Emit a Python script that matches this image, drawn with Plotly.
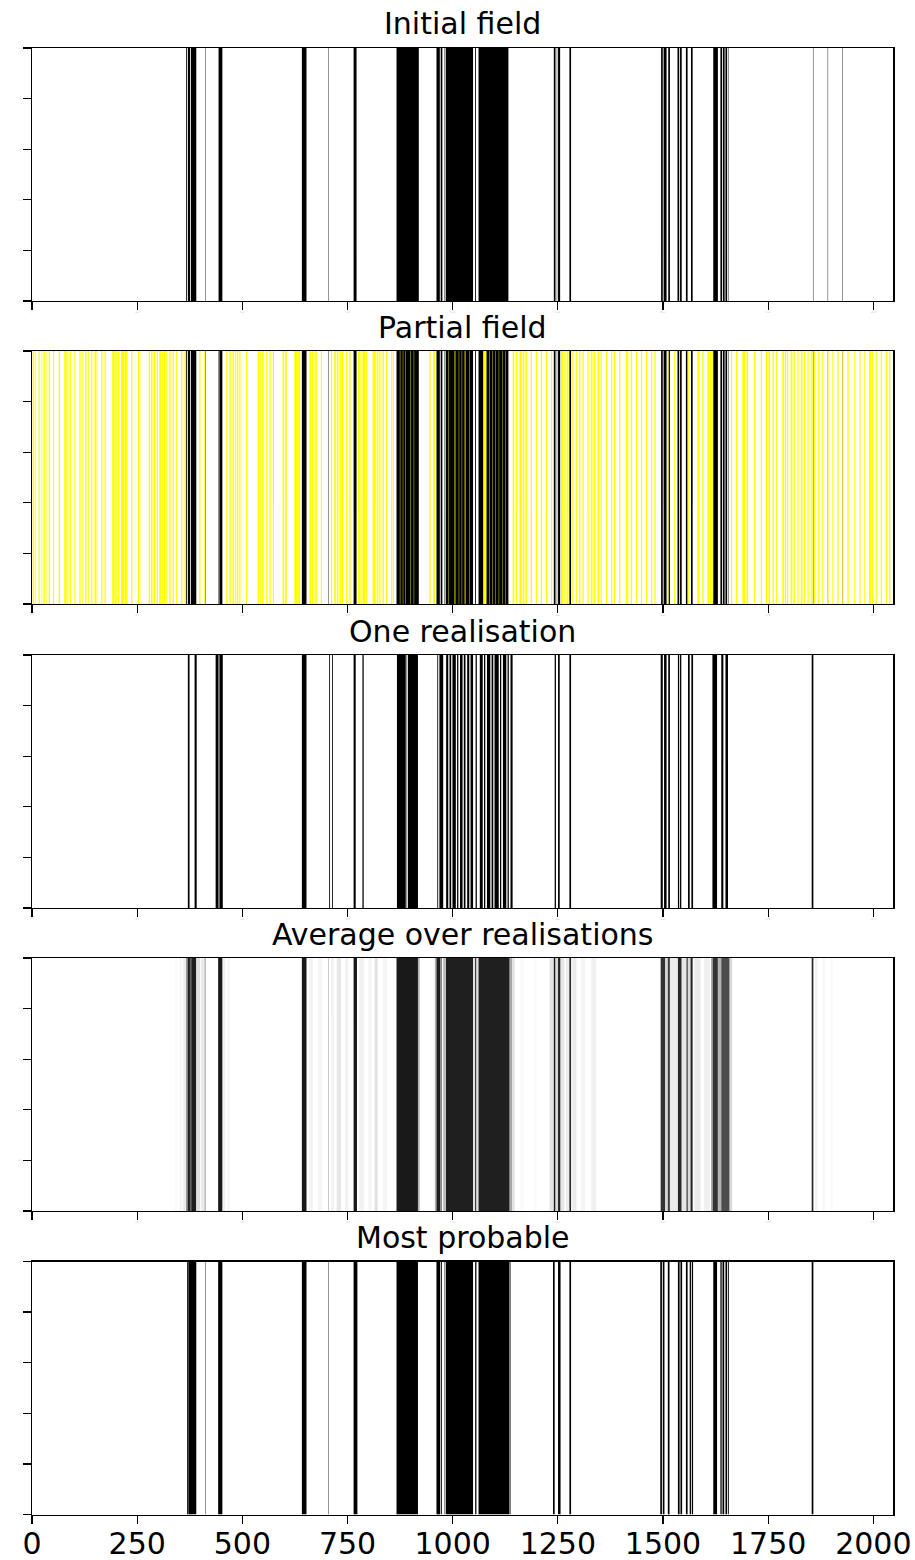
import plotly.graph_objects as go

# ---------------- data (pixel index intervals, end exclusive) ----------------
N_PIXELS = 2048
TITLES = ["Initial field", "Partial field", "One realisation",
          "Average over realisations", "Most probable"]
X_TICKS = [0, 250, 500, 750, 1000, 1250, 1500, 1750, 2000]
Y_TICKS = [-0.5, -0.3, -0.1, 0.1, 0.3, 0.5]

INITIAL_BLACK = [
    (367, 369), (371, 376), (378, 391), (412, 413), (444, 453), (642, 653),
    (705, 706), (765, 772), (867, 920), (962, 970), (972, 976), (980, 981),
    (984, 1049), (1054, 1056), (1062, 1133), (1241, 1245), (1248, 1249),
    (1251, 1256), (1278, 1282), (1496, 1500), (1502, 1509), (1513, 1517),
    (1535, 1539), (1541, 1545), (1555, 1559), (1567, 1571), (1620, 1631),
    (1637, 1641), (1643, 1647), (1649, 1653), (1656, 1657), (1857, 1858),
    (1892, 1893), (1927, 1928),
]

PARTIAL_YELLOW = [
    (2, 5), (7, 9), (16, 19), (23, 25), (28, 31), (35, 37), (40, 43), (50, 53),
    (64, 67), (77, 81), (82, 84), (85, 87), (91, 94), (101, 104), (113, 116),
    (120, 122), (127, 130), (134, 136), (141, 144), (149, 153), (154, 156),
    (165, 168), (173, 176), (191, 197), (198, 202), (205, 208), (212, 219),
    (220, 228), (236, 239), (252, 255), (256, 258), (278, 281), (283, 287),
    (289, 293), (297, 300), (303, 307), (309, 312), (314, 317), (318, 321),
    (327, 330), (335, 338), (343, 346), (355, 358), (363, 366),
    (398, 401), (410, 412), (446, 447), (462, 465), (470, 473), (477, 481),
    (483, 485), (487, 491), (493, 496), (509, 512), (537, 541), (543, 545),
    (547, 551), (557, 560), (565, 568), (573, 576), (596, 600), (602, 606),
    (624, 632), (633, 638), (660, 664), (666, 669), (672, 675), (676, 678),
    (687, 690), (711, 714), (719, 723), (725, 729), (732, 735), (737, 741),
    (747, 750), (755, 758), (775, 780), (781, 783), (786, 792), (794, 797),
    (810, 818), (820, 824), (826, 829), (834, 837), (842, 845), (854, 857),
    (859, 861), (875, 876), (882, 883), (888, 889), (900, 901), (908, 909),
    (945, 948), (954, 959), (990, 991), (1005, 1007), (1015, 1016),
    (1022, 1023), (1029, 1031), (1040, 1041), (1073, 1081), (1088, 1089),
    (1095, 1096), (1102, 1103), (1110, 1111), (1118, 1119), (1125, 1126),
    (1143, 1147), (1151, 1154), (1159, 1165), (1167, 1171), (1173, 1177),
    (1186, 1189), (1198, 1201), (1210, 1213), (1222, 1225), (1234, 1237),
    (1258, 1263), (1266, 1269), (1271, 1276), (1285, 1288), (1293, 1296),
    (1301, 1304), (1309, 1312), (1321, 1324), (1329, 1333), (1336, 1339),
    (1345, 1349), (1352, 1355), (1365, 1368), (1377, 1380), (1384, 1387),
    (1396, 1399), (1412, 1418), (1424, 1427), (1436, 1439), (1448, 1451),
    (1460, 1463), (1472, 1475), (1480, 1483), (1511, 1514), (1527, 1530),
    (1559, 1562), (1582, 1588), (1594, 1597), (1606, 1610), (1612, 1615),
    (1617, 1619), (1662, 1665), (1674, 1677), (1689, 1697), (1699, 1703),
    (1717, 1720), (1733, 1736), (1745, 1749), (1751, 1755), (1761, 1764),
    (1769, 1772), (1784, 1788), (1790, 1793), (1795, 1798), (1804, 1808),
    (1811, 1814), (1820, 1823), (1828, 1832), (1835, 1838), (1844, 1847),
    (1852, 1856), (1859, 1862), (1868, 1871), (1879, 1882), (1891, 1894),
    (1903, 1906), (1915, 1918), (1927, 1930), (1939, 1942), (1955, 1958),
    (1967, 1970), (1979, 1982), (1990, 1996), (1997, 2000), (2006, 2009),
    (2018, 2021), (2030, 2033), (2038, 2041),
]

REALISATION_BLACK = [
    (371, 375), (387, 392), (437, 444), (446, 454), (642, 653), (707, 709),
    (714, 716), (765, 770), (786, 789), (868, 889), (891, 892), (894, 918),
    (964, 966), (969, 978), (985, 990), (993, 997), (1000, 1008), (1011, 1014),
    (1018, 1024), (1027, 1031), (1035, 1040), (1043, 1049), (1055, 1058),
    (1065, 1072), (1075, 1078), (1082, 1090), (1093, 1097), (1100, 1110),
    (1113, 1116), (1120, 1128), (1131, 1134), (1138, 1143), (1243, 1246),
    (1251, 1255), (1278, 1282), (1495, 1500), (1503, 1509), (1513, 1517),
    (1536, 1539), (1541, 1544), (1560, 1564), (1568, 1572), (1618, 1629),
    (1639, 1644), (1649, 1655), (1854, 1858),
]

# (start, end, mean value) : 0 = white, 1 = black
AVERAGE = [
    (340, 345, 0.02), (352, 356, 0.05), (360, 366, 0.08),
    (367, 371, 0.5), (371, 376, 0.88), (376, 379, 0.6), (379, 391, 0.88),
    (391, 400, 0.12), (402, 410, 0.08), (411, 413, 0.5),
    (443, 453, 0.9), (455, 460, 0.06), (466, 470, 0.05),
    (642, 653, 0.9), (660, 668, 0.05), (680, 690, 0.04), (705, 706, 0.5),
    (712, 718, 0.06), (725, 735, 0.1), (745, 752, 0.05),
    (765, 773, 0.9), (778, 790, 0.05), (800, 808, 0.04), (815, 822, 0.12),
    (835, 845, 0.04),
    (867, 918, 0.9), (918, 922, 0.3),
    (958, 962, 0.3), (962, 971, 0.88), (971, 975, 0.5), (979, 981, 0.6),
    (984, 1049, 0.88), (1049, 1054, 0.12), (1054, 1057, 0.9),
    (1057, 1062, 0.12), (1062, 1136, 0.88), (1136, 1142, 0.35),
    (1142, 1148, 0.12), (1160, 1170, 0.02), (1195, 1200, 0.02),
    (1231, 1241, 0.1), (1241, 1245, 0.9), (1245, 1251, 0.15),
    (1251, 1257, 0.85), (1257, 1266, 0.1), (1270, 1278, 0.08),
    (1278, 1282, 0.85), (1285, 1295, 0.08), (1305, 1315, 0.04),
    (1330, 1342, 0.06),
    (1495, 1506, 0.8), (1506, 1512, 0.15), (1512, 1517, 0.75),
    (1517, 1536, 0.08), (1536, 1545, 0.85), (1545, 1556, 0.1),
    (1556, 1560, 0.6), (1560, 1566, 0.15), (1566, 1571, 0.85),
    (1575, 1590, 0.08), (1598, 1612, 0.06), (1615, 1619, 0.4),
    (1619, 1631, 0.8), (1631, 1639, 0.3), (1639, 1659, 0.7),
    (1659, 1665, 0.15), (1854, 1858, 0.85), (1862, 1868, 0.05),
    (1880, 1885, 0.03), (1900, 1905, 0.02),
]

MOST_PROBABLE_BLACK = [
    (369, 371), (372, 391), (412, 413), (443, 453), (642, 653), (705, 706),
    (765, 774), (867, 918), (962, 971), (973, 975), (980, 981), (984, 1049),
    (1054, 1057), (1062, 1135), (1136, 1138), (1239, 1243), (1251, 1257),
    (1278, 1282), (1494, 1498), (1500, 1504), (1512, 1516), (1536, 1540),
    (1542, 1546), (1555, 1559), (1564, 1567), (1569, 1572), (1620, 1629),
    (1637, 1640), (1642, 1646), (1649, 1653), (1655, 1657), (1854, 1858),
]

# ---------------- figure ----------------
W, H = 915, 1560
FONT = "DejaVu Sans"
PANEL_TOPS = [48, 351, 655, 958, 1261.5]
PANEL_H = 253
X_LEFT, X_RIGHT = 31.8, 893.3


def gray(v):
    g = int(round(255 * (1 - v)))
    return f"rgb({g},{g},{g})"


def bars(intervals, colors, axis_idx):
    xs = [(a + b) / 2 - 0.5 for a, b in intervals]
    ws = [b - a for a, b in intervals]
    sfx = "" if axis_idx == 1 else str(axis_idx)
    return go.Bar(x=xs, y=[1] * len(xs), width=ws, base=-0.5,
                  marker=dict(color=colors, line=dict(width=0)),
                  xaxis="x" + sfx, yaxis="y" + sfx, showlegend=False,
                  hoverinfo="skip")


fig = go.Figure()
fig.add_trace(bars(INITIAL_BLACK, "black", 1))
fig.add_trace(bars(INITIAL_BLACK, "black", 2))
fig.add_trace(bars(PARTIAL_YELLOW, "#ffff00", 2))
fig.add_trace(bars(REALISATION_BLACK, "black", 3))
fig.add_trace(bars([(a, b) for a, b, v in AVERAGE],
                   [gray(v) for a, b, v in AVERAGE], 4))
fig.add_trace(bars(MOST_PROBABLE_BLACK, "black", 5))

layout = dict(width=W, height=H, margin=dict(l=0, r=0, t=0, b=0),
              paper_bgcolor="white", plot_bgcolor="white",
              barmode="overlay", font=dict(family=FONT, color="black"),
              annotations=[])

for i in range(5):
    top = PANEL_TOPS[i]
    bottom = top + PANEL_H
    sfx = "" if i == 0 else str(i + 1)
    last = i == 4
    layout["xaxis" + sfx] = dict(
        domain=[X_LEFT / W, X_RIGHT / W], range=[-0.5, N_PIXELS - 0.5],
        anchor="y" + sfx, tickvals=X_TICKS, ticks="outside", ticklen=8,
        tickwidth=1.3, tickcolor="black", showline=True, mirror=True,
        linecolor="black", linewidth=1.3, showgrid=False, zeroline=False,
        automargin=False, fixedrange=True,
        ticklabelstandoff=-6 if last else 0,
        tickfont=dict(size=30 if last else 2, color="black" if last else "#bbbbbb"),
    )
    layout["yaxis" + sfx] = dict(
        domain=[1 - bottom / H, 1 - top / H], range=[-0.5, 0.5],
        anchor="x" + sfx, tickvals=Y_TICKS, ticks="outside", ticklen=8,
        tickwidth=1.3, tickcolor="black", showline=True, mirror=True,
        linecolor="black", linewidth=1.3, showgrid=False, zeroline=False,
        automargin=False, fixedrange=True,
        tickfont=dict(size=2, color="#bbbbbb"),
    )
    layout["annotations"].append(dict(
        text=TITLES[i], x=(X_LEFT + X_RIGHT) / 2 / W, y=1 - (top - 24) / H,
        xref="paper", yref="paper", xanchor="center", yanchor="middle",
        showarrow=False, font=dict(size=30, family=FONT, color="black")))

fig.update_layout(**layout)
fig.write_html(
    "out.html",
    config={"displayModeBar": False, "staticPlot": True},
    post_script="document.body.style.margin='0';document.body.style.padding='0';"
                "document.documentElement.style.overflow='hidden';",
)
